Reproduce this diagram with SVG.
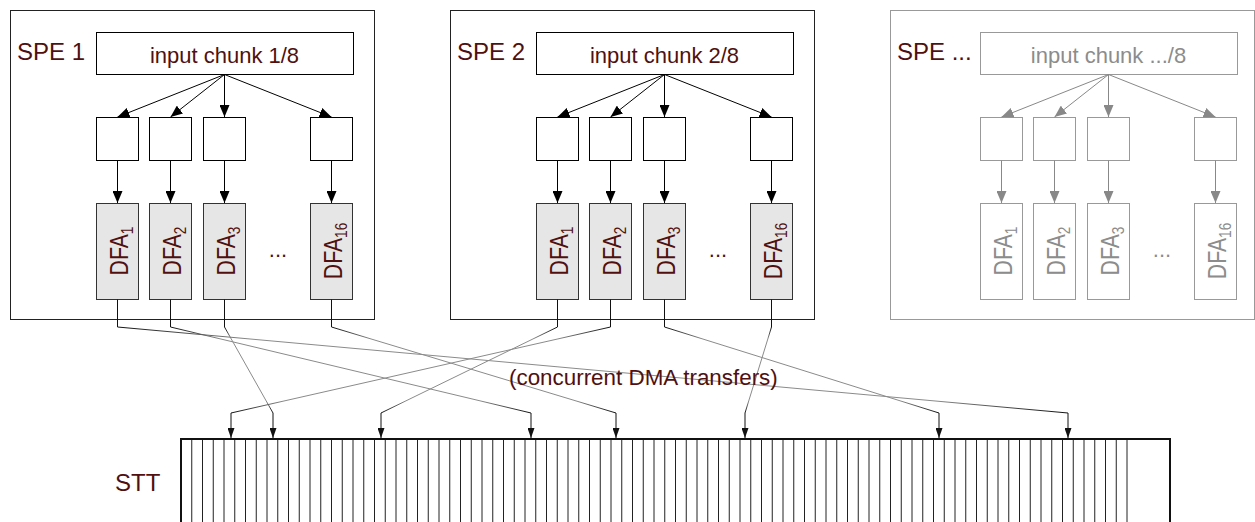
<svg xmlns="http://www.w3.org/2000/svg" width="1255" height="522" viewBox="0 0 1255 522">
  <style>
    text { font-family: "Liberation Sans", Arial, Helvetica, sans-serif; fill: #501010; }
    .lbl { font-size: 24px; }
    .txt { font-size: 22px; }
    .note { font-size: 22.4px; }
    .name { font-size: 25px; }
    .sub { font-size: 16px; }
    .spe { fill: #fff; stroke: #222; stroke-width: 1; }
    .box { fill: #fff; stroke: #000; stroke-width: 1; }
    .dfa { fill: #e6e6e6; stroke: #333; stroke-width: 1; }
    .dim .spe, .dim .box { stroke: #999; }
    .dim .dfa { fill: #fff; stroke: #999; }
    .dim .txt, .dim .name, .dim .sub { fill: #8c8c8c; }
    .arr { fill: none; stroke: #000; stroke-width: 1; marker-end: url(#head); }
    .dim-arr { fill: none; stroke: #888; stroke-width: 1; marker-end: url(#head-grey); }
    .dma { fill: none; stroke-width: 1; marker-end: url(#head-small); }
    .stt { fill: #fff; stroke: #111; stroke-width: 2; }
    .cells { fill: none; stroke: #222; stroke-width: 1; }
  </style>
  <defs>
    <marker id="head" viewBox="0 0 12 10" refX="12" refY="5" markerWidth="12" markerHeight="10" markerUnits="userSpaceOnUse" orient="auto">
      <path d="M0,0L12,5L0,10z" fill="#000"/>
    </marker>
    <marker id="head-grey" viewBox="0 0 12 10" refX="12" refY="5" markerWidth="12" markerHeight="10" markerUnits="userSpaceOnUse" orient="auto">
      <path d="M0,0L12,5L0,10z" fill="#888"/>
    </marker>
    <marker id="head-small" viewBox="0 0 10 7" refX="10" refY="3.5" markerWidth="10" markerHeight="7" markerUnits="userSpaceOnUse" orient="auto">
      <path d="M0,0L10,3.5L0,7z" fill="#111"/>
    </marker>
    <!-- transfer lines: dark at both ends, light grey along the long run -->
    <linearGradient id="fade">
      <stop offset="0" stop-color="#111"/>
      <stop offset="0.14" stop-color="#8a8a8a"/>
      <stop offset="0.86" stop-color="#8a8a8a"/>
      <stop offset="1" stop-color="#111"/>
    </linearGradient>
    <linearGradient id="t1" href="#fade" gradientUnits="userSpaceOnUse" x1="117.5" y1="327" x2="1068" y2="413"/>
    <linearGradient id="t2" href="#fade" gradientUnits="userSpaceOnUse" x1="170.5" y1="327" x2="531" y2="413"/>
    <linearGradient id="t3" href="#fade" gradientUnits="userSpaceOnUse" x1="224.5" y1="327" x2="273" y2="413"/>
    <linearGradient id="t4" href="#fade" gradientUnits="userSpaceOnUse" x1="331.5" y1="327" x2="616" y2="413"/>
    <linearGradient id="t5" href="#fade" gradientUnits="userSpaceOnUse" x1="557.5" y1="327" x2="381" y2="413"/>
    <linearGradient id="t6" href="#fade" gradientUnits="userSpaceOnUse" x1="610.5" y1="327" x2="231" y2="413"/>
    <linearGradient id="t7" href="#fade" gradientUnits="userSpaceOnUse" x1="664.5" y1="327" x2="939" y2="413"/>
    <linearGradient id="t8" href="#fade" gradientUnits="userSpaceOnUse" x1="771.5" y1="327" x2="745" y2="413"/>
  </defs>

  <rect width="1255" height="522" fill="#fff"/>

  <!-- SPE 1 -->
  <g id="spe1">
    <rect class="spe" x="10.5" y="10.5" width="364" height="309"/>
    <text class="lbl" x="17" y="60">SPE 1</text>
    <g id="spe1-chunk"><rect class="box" x="96.5" y="32.5" width="257" height="42"/><text class="txt" x="224.5" y="63" text-anchor="middle">input chunk 1/8</text></g>
    <g id="spe1-buf1"><rect class="box" x="96.5" y="117.5" width="42" height="43"/></g>
    <g id="spe1-buf2"><rect class="box" x="149.5" y="117.5" width="42" height="43"/></g>
    <g id="spe1-buf3"><rect class="box" x="203.5" y="117.5" width="42" height="43"/></g>
    <g id="spe1-buf16"><rect class="box" x="310.5" y="117.5" width="42" height="43"/></g>
    <g id="spe1-dfa1"><rect class="dfa" x="96.5" y="203.5" width="42" height="96"/><text class="name" transform="translate(128,251) rotate(-90) scale(0.85,1)" text-anchor="middle">DFA<tspan class="sub" dy="5">1</tspan></text></g>
    <g id="spe1-dfa2"><rect class="dfa" x="149.5" y="203.5" width="42" height="96"/><text class="name" transform="translate(181,251) rotate(-90) scale(0.85,1)" text-anchor="middle">DFA<tspan class="sub" dy="5">2</tspan></text></g>
    <g id="spe1-dfa3"><rect class="dfa" x="203.5" y="203.5" width="42" height="96"/><text class="name" transform="translate(235,251) rotate(-90) scale(0.85,1)" text-anchor="middle">DFA<tspan class="sub" dy="5">3</tspan></text></g>
    <text class="txt" x="278" y="257" text-anchor="middle">...</text>
    <g id="spe1-dfa16"><rect class="dfa" x="310.5" y="203.5" width="42" height="96"/><text class="name" transform="translate(342,251) rotate(-90) scale(0.85,1)" text-anchor="middle">DFA<tspan class="sub" dy="5">16</tspan></text></g>
  </g>

  <!-- SPE 2 -->
  <g id="spe2">
    <rect class="spe" x="450.5" y="10.5" width="364" height="309"/>
    <text class="lbl" x="457" y="60">SPE 2</text>
    <g id="spe2-chunk"><rect class="box" x="536.5" y="32.5" width="257" height="42"/><text class="txt" x="664.5" y="63" text-anchor="middle">input chunk 2/8</text></g>
    <g id="spe2-buf1"><rect class="box" x="536.5" y="117.5" width="42" height="43"/></g>
    <g id="spe2-buf2"><rect class="box" x="589.5" y="117.5" width="42" height="43"/></g>
    <g id="spe2-buf3"><rect class="box" x="643.5" y="117.5" width="42" height="43"/></g>
    <g id="spe2-buf16"><rect class="box" x="750.5" y="117.5" width="42" height="43"/></g>
    <g id="spe2-dfa1"><rect class="dfa" x="536.5" y="203.5" width="42" height="96"/><text class="name" transform="translate(568,251) rotate(-90) scale(0.85,1)" text-anchor="middle">DFA<tspan class="sub" dy="5">1</tspan></text></g>
    <g id="spe2-dfa2"><rect class="dfa" x="589.5" y="203.5" width="42" height="96"/><text class="name" transform="translate(621,251) rotate(-90) scale(0.85,1)" text-anchor="middle">DFA<tspan class="sub" dy="5">2</tspan></text></g>
    <g id="spe2-dfa3"><rect class="dfa" x="643.5" y="203.5" width="42" height="96"/><text class="name" transform="translate(675,251) rotate(-90) scale(0.85,1)" text-anchor="middle">DFA<tspan class="sub" dy="5">3</tspan></text></g>
    <text class="txt" x="718" y="257" text-anchor="middle">...</text>
    <g id="spe2-dfa16"><rect class="dfa" x="750.5" y="203.5" width="42" height="96"/><text class="name" transform="translate(782,251) rotate(-90) scale(0.85,1)" text-anchor="middle">DFA<tspan class="sub" dy="5">16</tspan></text></g>
  </g>

  <!-- further SPEs, drawn faded -->
  <g id="spe-more" class="dim">
    <rect class="spe" x="890.5" y="10.5" width="364" height="309"/>
    <text class="lbl" x="897" y="60">SPE ...</text>
    <g id="spe-more-chunk"><rect class="box" x="980.5" y="32.5" width="257" height="42"/><text class="txt" x="1108.5" y="63" text-anchor="middle">input chunk .../8</text></g>
    <g id="spe-more-buf1"><rect class="box" x="980.5" y="117.5" width="42" height="43"/></g>
    <g id="spe-more-buf2"><rect class="box" x="1033.5" y="117.5" width="42" height="43"/></g>
    <g id="spe-more-buf3"><rect class="box" x="1087.5" y="117.5" width="42" height="43"/></g>
    <g id="spe-more-buf16"><rect class="box" x="1194.5" y="117.5" width="42" height="43"/></g>
    <g id="spe-more-dfa1"><rect class="dfa" x="980.5" y="203.5" width="42" height="96"/><text class="name" transform="translate(1012,251) rotate(-90) scale(0.85,1)" text-anchor="middle">DFA<tspan class="sub" dy="5">1</tspan></text></g>
    <g id="spe-more-dfa2"><rect class="dfa" x="1033.5" y="203.5" width="42" height="96"/><text class="name" transform="translate(1065,251) rotate(-90) scale(0.85,1)" text-anchor="middle">DFA<tspan class="sub" dy="5">2</tspan></text></g>
    <g id="spe-more-dfa3"><rect class="dfa" x="1087.5" y="203.5" width="42" height="96"/><text class="name" transform="translate(1119,251) rotate(-90) scale(0.85,1)" text-anchor="middle">DFA<tspan class="sub" dy="5">3</tspan></text></g>
    <text class="txt" x="1162" y="257" text-anchor="middle">...</text>
    <g id="spe-more-dfa16"><rect class="dfa" x="1194.5" y="203.5" width="42" height="96"/><text class="name" transform="translate(1226,251) rotate(-90) scale(0.85,1)" text-anchor="middle">DFA<tspan class="sub" dy="5">16</tspan></text></g>
  </g>

  <!-- shared state transition table -->
  <g id="stt">
    <rect class="stt" x="181" y="439" width="989" height="100"/>
    <path class="cells" d="M191.75,440v82m10.75,-82v82m10.75,-82v82m10.75,-82v82m10.75,-82v82m10.75,-82v82m10.75,-82v82m10.75,-82v82m10.75,-82v82m10.75,-82v82m10.75,-82v82m10.75,-82v82m10.75,-82v82m10.75,-82v82m10.75,-82v82m10.75,-82v82m10.75,-82v82m10.75,-82v82m10.75,-82v82m10.75,-82v82m10.75,-82v82m10.75,-82v82m10.75,-82v82m10.75,-82v82m10.75,-82v82m10.75,-82v82m10.75,-82v82m10.75,-82v82m10.75,-82v82m10.75,-82v82m10.75,-82v82m10.75,-82v82m10.75,-82v82m10.75,-82v82m10.75,-82v82m10.75,-82v82m10.75,-82v82m10.75,-82v82m10.75,-82v82m10.75,-82v82m10.75,-82v82m10.75,-82v82m10.75,-82v82m10.75,-82v82m10.75,-82v82m10.75,-82v82m10.75,-82v82m10.75,-82v82m10.75,-82v82m10.75,-82v82m10.75,-82v82m10.75,-82v82m10.75,-82v82m10.75,-82v82m10.75,-82v82m10.75,-82v82m10.75,-82v82m10.75,-82v82m10.75,-82v82m10.75,-82v82m10.75,-82v82m10.75,-82v82m10.75,-82v82m10.75,-82v82m10.75,-82v82m10.75,-82v82m10.75,-82v82m10.75,-82v82m10.75,-82v82m10.75,-82v82m10.75,-82v82m10.75,-82v82m10.75,-82v82m10.75,-82v82m10.75,-82v82m10.75,-82v82m10.75,-82v82m10.75,-82v82m10.75,-82v82m10.75,-82v82m10.75,-82v82m10.75,-82v82m10.75,-82v82m10.75,-82v82m10.75,-82v82m10.75,-82v82m10.75,-82v82m10.75,-82v82"/>
    <text class="lbl" x="115" y="491">STT</text>
  </g>

  <g id="connectors">
    <!-- chunk to buffers, buffers to DFAs -->
    <g id="spe1-arrows">
      <path class="arr" d="M224.5,74.5L117.5,117"/>
      <path class="arr" d="M224.5,74.5L170.5,117"/>
      <path class="arr" d="M224.5,74.5V117"/>
      <path class="arr" d="M224.5,74.5L331.5,117"/>
      <path class="arr" d="M117.5,160.5V203"/>
      <path class="arr" d="M170.5,160.5V203"/>
      <path class="arr" d="M224.5,160.5V203"/>
      <path class="arr" d="M331.5,160.5V203"/>
    </g>
    <g id="spe2-arrows">
      <path class="arr" d="M664.5,74.5L557.5,117"/>
      <path class="arr" d="M664.5,74.5L610.5,117"/>
      <path class="arr" d="M664.5,74.5V117"/>
      <path class="arr" d="M664.5,74.5L771.5,117"/>
      <path class="arr" d="M557.5,160.5V203"/>
      <path class="arr" d="M610.5,160.5V203"/>
      <path class="arr" d="M664.5,160.5V203"/>
      <path class="arr" d="M771.5,160.5V203"/>
    </g>
    <g id="spe-more-arrows">
      <path class="dim-arr" d="M1108.5,74.5L1001.5,117"/>
      <path class="dim-arr" d="M1108.5,74.5L1054.5,117"/>
      <path class="dim-arr" d="M1108.5,74.5V117"/>
      <path class="dim-arr" d="M1108.5,74.5L1215.5,117"/>
      <path class="dim-arr" d="M1001.5,160.5V203"/>
      <path class="dim-arr" d="M1054.5,160.5V203"/>
      <path class="dim-arr" d="M1108.5,160.5V203"/>
      <path class="dim-arr" d="M1215.5,160.5V203"/>
    </g>
    <!-- DMA transfers from the DFAs into the STT -->
    <g id="dma">
      <path class="dma" stroke="url(#t1)" d="M117.5,299.5V327L1068,413V438"/>
      <path class="dma" stroke="url(#t2)" d="M170.5,299.5V327L531,413V438"/>
      <path class="dma" stroke="url(#t3)" d="M224.5,299.5V327L273,413V438"/>
      <path class="dma" stroke="url(#t4)" d="M331.5,299.5V327L616,413V438"/>
      <path class="dma" stroke="url(#t5)" d="M557.5,299.5V327L381,413V438"/>
      <path class="dma" stroke="url(#t6)" d="M610.5,299.5V327L231,413V438"/>
      <path class="dma" stroke="url(#t7)" d="M664.5,299.5V327L939,413V438"/>
      <path class="dma" stroke="url(#t8)" d="M771.5,299.5V327L745,413V438"/>
    </g>
  </g>

  <text class="note" x="509" y="385">(concurrent DMA transfers)</text>
</svg>
